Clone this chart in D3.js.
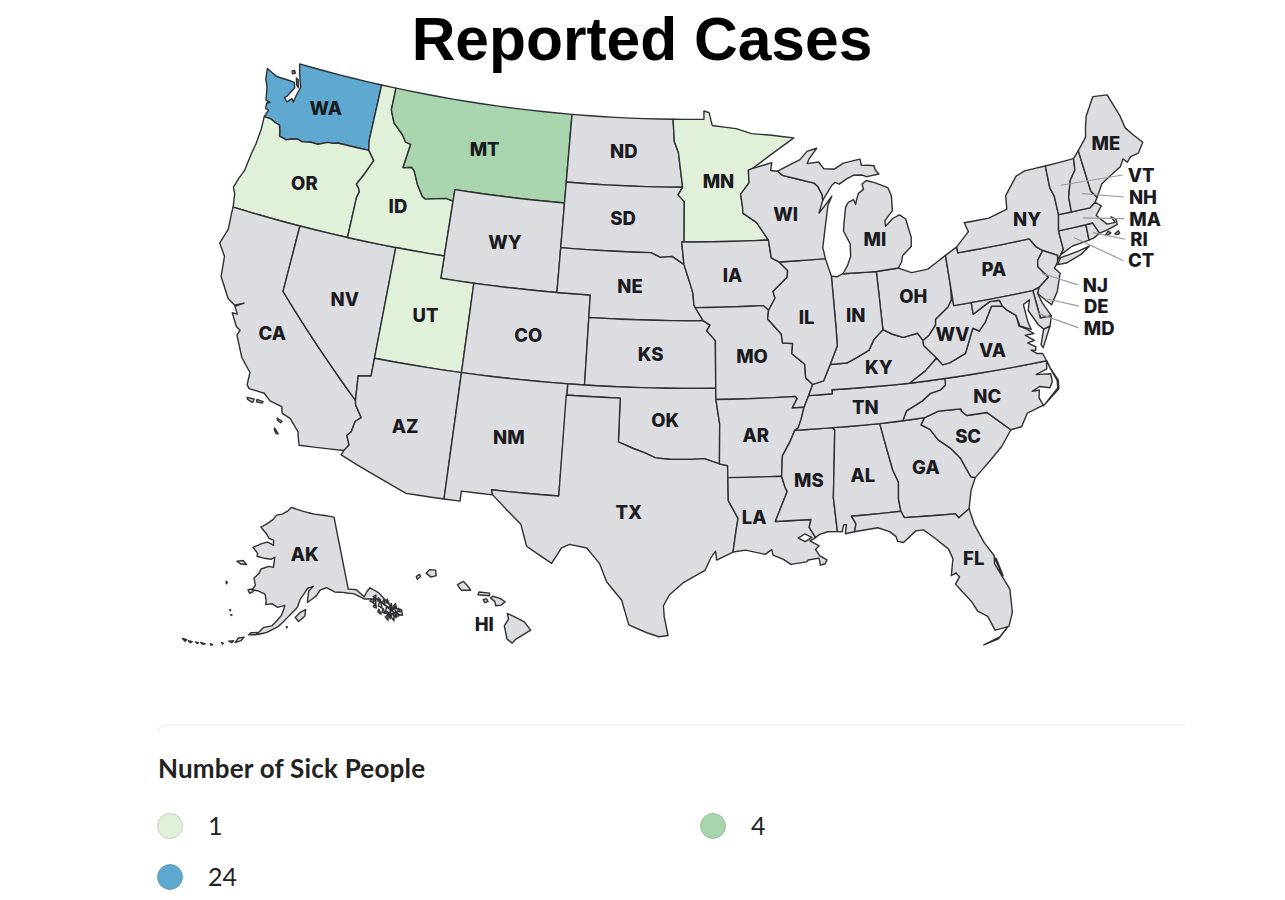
<!DOCTYPE html>
<html lang="en">
<head>
  <meta charset="UTF-8">
  <title>Reported Cases</title>
  <script src="https://d3js.org/d3.v7.min.js"></script>
  <style>
    body { margin: 0; background: #fff; }
    svg { display: block; }
    .state { stroke: #2e3034; stroke-width: 1.4; stroke-linejoin: round; fill-rule: evenodd; }
    .abbr { font-family: Inter, 'Noto Sans', sans-serif; font-weight: 800; font-size: 18.5px; fill: #1b1b1f; text-anchor: middle; dominant-baseline: central; }
    .leader { stroke: #9a9a9a; stroke-width: 1.2; fill: none; }
  </style>
</head>
<body>
  <svg id="chart" width="1285" height="900"></svg>
  <script>
    const title = "Reported Cases";
    const legendTitle = "Number of Sick People";
    const legendValues = [1, 4, 24];
    const legendColors = ["#e0f0d9", "#a8d5ad", "#5fa8cf"];
    const noDataColor = "#dcdde0";

    // sick people per state, every other state has none
    const reportedStates = ["WA", "MT", "OR", "ID", "UT", "MN"];
    const reportedCounts = [24, 4, 1, 1, 1, 1];

    const outlines = {
      WA: [[[-124.73,48.38],[-123.98,48.16],[-123.1,48.15],[-122.75,48.13],[-122.62,47.9],[-122.95,47.45],[-123.1,47.35],[-122.85,47.2],[-122.6,47.4],[-122.45,47.27],[-122.38,47.6],[-122.25,48.0],[-122.5,48.45],[-122.75,49],[-117.04,49],[-117.04,46.42],[-116.92,46],[-118.98,46],[-119.3,45.93],[-119.6,45.92],[-120.2,45.73],[-120.65,45.74],[-121.2,45.65],[-121.55,45.72],[-122,45.62],[-122.25,45.55],[-122.7,45.63],[-122.78,45.85],[-122.9,46.1],[-123.2,46.15],[-123.55,46.26],[-124,46.27],[-123.85,46.6],[-124.07,46.65],[-124.1,46.9],[-123.9,46.95],[-124.2,47],[-124.4,47.6],[-124.62,47.9]],
        [[-123.1,48.6],[-122.95,48.65],[-122.85,48.55],[-123.02,48.48]], [[-122.7,48.35],[-122.55,48.3],[-122.4,47.95],[-122.55,48.05]]],
      OR: [[[-124,46.27],[-123.55,46.26],[-123.2,46.15],[-122.9,46.1],[-122.78,45.85],[-122.7,45.63],[-122.25,45.55],[-122,45.62],[-121.55,45.72],[-121.2,45.65],[-120.65,45.74],[-120.2,45.73],[-119.6,45.92],[-119.3,45.93],[-118.98,46],[-116.92,46],[-116.47,45.6],[-116.68,45.25],[-116.85,44.95],[-117.22,44.4],[-117.03,44.25],[-116.93,44.1],[-117.03,43.83],[-117.03,42],[-124.21,42],[-124.36,42.6],[-124.55,42.84],[-124.4,43.3],[-124.2,43.7],[-124.1,44.5],[-124,45],[-123.95,45.7]]],
      CA: [[[-124.21,42],[-120,42],[-120,39],[-114.63,35],[-114.57,34.8],[-114.14,34.3],[-114.43,34.08],[-114.52,33.6],[-114.72,33.4],[-114.5,33],[-114.72,32.72],[-117.12,32.53],[-117.25,32.85],[-117.33,33.1],[-117.9,33.6],[-118.4,33.75],[-118.5,34.03],[-119.2,34.15],[-119.6,34.42],[-120.47,34.45],[-120.63,34.6],[-120.65,35.15],[-121.3,35.7],[-121.9,36.6],[-121.8,36.85],[-122.05,36.95],[-122.5,37.5],[-122.2,37.5],[-122.45,37.8],[-122,38.05],[-122.5,37.85],[-122.95,38.05],[-123.7,38.9],[-123.85,39.8],[-124.35,40.3],[-124.1,41],[-124.2,41.75]],
        [[-119.9,34.07],[-119.55,34.05],[-119.6,33.97],[-119.9,33.97]], [[-118.6,33.48],[-118.3,33.4],[-118.35,33.32],[-118.55,33.4]], [[-118.6,33.03],[-118.35,32.82],[-118.45,32.8],[-118.6,32.95]], [[-120.45,34.05],[-120.05,34.05],[-120.1,33.9],[-120.4,33.97]]],
      NV: [[[-120,42],[-114.04,42],[-114.04,36.2],[-114.75,36.1],[-114.63,35],[-120,39]]],
      ID: [[[-117.04,49],[-116.05,49],[-116.05,48],[-115.7,47.45],[-115,47],[-114.7,46.7],[-114.35,46.65],[-114.47,46],[-114.55,45.56],[-114,45.65],[-113.8,45.5],[-113.45,44.95],[-113,44.45],[-112.8,44.37],[-111.5,44.55],[-111.05,44.48],[-111.05,42],[-117.03,42],[-117.03,43.83],[-116.93,44.1],[-117.03,44.25],[-117.22,44.4],[-116.85,44.95],[-116.68,45.25],[-116.47,45.6],[-116.92,46],[-117.04,46.42]]],
      MT: [[[-116.05,49],[-104.05,49],[-104.05,45],[-111.05,45],[-111.05,44.48],[-111.5,44.55],[-112.8,44.37],[-113,44.45],[-113.45,44.95],[-113.8,45.5],[-114,45.65],[-114.55,45.56],[-114.47,46],[-114.35,46.65],[-114.7,46.7],[-115,47],[-115.7,47.45],[-116.05,48]]],
      WY: [[[-111.05,45],[-104.05,45],[-104.05,41],[-111.05,41]]],
      UT: [[[-114.04,42],[-111.05,42],[-111.05,41],[-109.05,41],[-109.05,37],[-114.04,37]]],
      CO: [[[-109.05,41],[-102.05,41],[-102.05,37],[-109.05,37]]],
      AZ: [[[-114.04,37],[-109.05,37],[-109.05,31.33],[-111.07,31.33],[-114.81,32.5],[-114.72,32.72],[-114.5,33],[-114.72,33.4],[-114.52,33.6],[-114.43,34.08],[-114.14,34.3],[-114.57,34.8],[-114.63,35],[-114.75,36.1],[-114.04,36.2]]],
      NM: [[[-109.05,37],[-103,37],[-103.04,32],[-106.62,32],[-106.53,31.78],[-108.2,31.78],[-108.2,31.33],[-109.05,31.33]]],
      ND: [[[-104.05,49],[-97.23,49],[-97.13,48],[-96.85,47.5],[-96.56,45.94],[-104.05,45.94]]],
      SD: [[[-104.05,45.94],[-96.56,45.94],[-96.85,45.6],[-96.45,45.3],[-96.45,43.5],[-96.6,43.5],[-96.45,42.49],[-97.2,42.85],[-97.9,42.8],[-98.5,43],[-104.05,43]]],
      NE: [[[-104.05,43],[-98.5,43],[-97.9,42.8],[-97.2,42.85],[-96.45,42.49],[-96.1,41.7],[-95.9,41.2],[-95.85,40.7],[-95.31,40],[-102.05,40],[-102.05,41],[-104.05,41]]],
      KS: [[[-102.05,40],[-95.31,40],[-94.9,39.8],[-95.1,39.55],[-94.6,39.11],[-94.62,37],[-102.05,37]]],
      OK: [[[-103,37],[-94.62,37],[-94.62,36.5],[-94.43,35.4],[-94.48,33.64],[-95.3,33.88],[-96,33.85],[-96.6,33.85],[-97.2,33.85],[-97.95,33.9],[-98.5,34.1],[-99.2,34.3],[-100,34.56],[-100,36.5],[-103,36.5]]],
      TX: [[[-103.04,36.5],[-100,36.5],[-100,34.56],[-99.2,34.3],[-98.5,34.1],[-97.95,33.9],[-97.2,33.85],[-96.6,33.85],[-96,33.85],[-95.3,33.88],[-94.48,33.64],[-94.04,33.55],[-94.04,33.02],[-94.04,32],[-93.55,31.2],[-93.7,30.5],[-93.85,29.7],[-94.7,29.35],[-94.75,29.75],[-95,29.45],[-95.3,28.9],[-96.4,28.35],[-97.1,27.8],[-97.4,27.3],[-97.35,26.8],[-97.15,25.96],[-97.6,25.9],[-98.2,26.07],[-99.1,26.4],[-99.5,27.5],[-100.3,28.3],[-100.7,29.1],[-101.4,29.77],[-102.3,29.88],[-102.7,29.7],[-103.15,28.98],[-104.5,29.65],[-104.9,30.6],[-106.53,31.78],[-106.62,32],[-103.04,32]]],
      MN: [[[-97.23,49],[-95.15,49],[-95.15,49.38],[-94.8,49.3],[-94.6,48.72],[-93,48.55],[-92,48.3],[-90.8,48.2],[-89.2,48],[-90.8,47.3],[-92.05,46.72],[-92.29,46.66],[-92.29,46.08],[-92.85,45.6],[-92.75,45],[-92.75,44.75],[-91.9,44.3],[-91.22,43.5],[-96.45,43.5],[-96.45,45.3],[-96.85,45.6],[-96.56,45.94],[-96.85,47.5],[-97.13,48]]],
      IA: [[[-96.45,43.5],[-91.22,43.5],[-91.1,42.7],[-90.64,42.5],[-90.15,42.1],[-90.2,41.8],[-91.1,41.2],[-91,40.9],[-91.42,40.38],[-91.73,40.6],[-95.77,40.58],[-95.85,40.7],[-95.9,41.2],[-96.1,41.7],[-96.45,42.49],[-96.6,43.5]]],
      MO: [[[-95.77,40.58],[-91.73,40.6],[-91.42,40.38],[-91.5,40],[-90.75,39.3],[-90.7,38.9],[-90.12,38.85],[-90.2,38.4],[-89.5,37.9],[-89.5,37.3],[-89.13,36.98],[-89.4,36.5],[-89.7,36],[-90.37,36],[-90.07,36.4],[-90.15,36.5],[-94.62,36.5],[-94.62,37],[-94.6,39.11],[-95.1,39.55],[-94.9,39.8],[-95.31,40]]],
      AR: [[[-94.62,36.5],[-90.15,36.5],[-90.07,36.4],[-90.37,36],[-89.7,36],[-89.9,35.5],[-90.1,35.1],[-90.3,35],[-90.6,34.5],[-91.05,33.9],[-91.15,33],[-94.04,33.02],[-94.04,33.55],[-94.48,33.64],[-94.43,35.4]]],
      LA: [[[-94.04,33.02],[-91.15,33],[-91,32.5],[-90.9,32.3],[-91.6,31],[-89.73,31],[-89.85,30.65],[-89.55,30.18],[-89.85,30.05],[-89.4,29.8],[-89.6,29.65],[-89.4,29.35],[-89.05,29.15],[-89.15,28.98],[-89.4,28.93],[-89.45,29.25],[-90,29.2],[-90.1,29.12],[-90.9,29.05],[-91.3,29.3],[-91.8,29.5],[-91.85,29.75],[-92.2,29.55],[-93.2,29.77],[-93.85,29.7],[-93.7,30.5],[-93.55,31.2],[-94.04,32]],
        [[-90.45,30.2],[-90.1,30.37],[-89.75,30.2],[-90.1,30.03]]],
      MS: [[[-90.3,35],[-88.2,35],[-88.1,34.9],[-88.47,31.9],[-88.4,30.37],[-88.9,30.4],[-89.35,30.3],[-89.55,30.18],[-89.85,30.65],[-89.73,31],[-91.6,31],[-90.9,32.3],[-91,32.5],[-91.15,33],[-91.05,33.9],[-90.6,34.5]]],
      AL: [[[-88.2,35],[-85.6,34.98],[-85.18,32.87],[-84.95,32.3],[-85.05,31.55],[-85,31],[-87.6,31],[-87.4,30.65],[-87.52,30.3],[-88,30.25],[-87.9,30.65],[-88.05,30.65],[-88.15,30.35],[-88.4,30.37],[-88.47,31.9],[-88.1,34.9]]],
      GA: [[[-85.6,34.98],[-84.32,34.99],[-83.1,35],[-83.35,34.7],[-82.9,34.45],[-82.55,33.95],[-81.95,33.5],[-81.5,33],[-81.1,32.1],[-80.87,32.03],[-81.2,31.5],[-81.45,30.7],[-82.05,30.37],[-82.2,30.57],[-84.86,30.7],[-85,31],[-85.05,31.55],[-84.95,32.3],[-85.18,32.87]]],
      FL: [[[-87.6,31],[-85,31],[-84.86,30.7],[-82.2,30.57],[-82.05,30.37],[-81.45,30.7],[-81.3,29.95],[-80.95,29.1],[-80.55,28.45],[-80.6,28.1],[-80.05,26.85],[-80.12,25.8],[-80.4,25.2],[-80.9,25.15],[-81.1,25.13],[-81.35,25.8],[-81.8,26.1],[-82.05,26.6],[-82.4,27.05],[-82.7,27.45],[-82.45,27.75],[-82.6,27.95],[-82.85,27.85],[-82.65,28.6],[-82.8,29.05],[-83.4,29.6],[-83.95,30.05],[-84.35,30.05],[-85.05,29.6],[-85.35,29.68],[-85.4,29.9],[-85.7,30.15],[-86.3,30.38],[-87.52,30.3],[-87.4,30.65]],
        [[-80.55,28.35],[-80.32,27.55],[-80.27,27.5],[-80.47,28.3]], [[-80.45,25.2],[-80.9,24.8],[-81.75,24.55],[-81.0,24.72]]],
      SC: [[[-83.1,35],[-82.3,35.2],[-81.05,35.15],[-81.05,35.05],[-80.8,34.82],[-79.67,34.8],[-78.55,33.86],[-79.2,33.2],[-79.9,32.7],[-80.87,32.03],[-81.1,32.1],[-81.5,33],[-81.95,33.5],[-82.55,33.95],[-82.9,34.45],[-83.35,34.7]]],
      NC: [[[-84.32,34.99],[-83.1,35],[-82.3,35.2],[-81.05,35.15],[-81.05,35.05],[-80.8,34.82],[-79.67,34.8],[-78.55,33.86],[-77.95,33.9],[-77.5,34.45],[-76.55,34.65],[-76.7,35],[-76.6,35.35],[-77,35.35],[-76.55,35.5],[-76,35.35],[-75.8,35.6],[-75.8,35.95],[-76.2,36],[-76.6,36.05],[-75.95,36.2],[-75.87,36.55],[-81.68,36.59],[-81.7,36.3],[-82,36.12],[-82.6,36.03],[-83.1,35.75],[-84.05,35.4]],
        [[-76.55,34.62],[-75.53,35.22],[-75.46,35.6],[-75.75,36.2],[-75.85,36.53],[-75.78,36.25],[-75.52,35.6],[-75.58,35.27]]],
      TN: [[[-90.3,35],[-88.2,35],[-85.6,34.98],[-84.32,34.99],[-84.05,35.4],[-83.1,35.75],[-82.6,36.03],[-82,36.12],[-81.7,36.3],[-81.68,36.59],[-83.68,36.6],[-88.07,36.68],[-88.07,36.5],[-89.4,36.5],[-89.7,36],[-89.9,35.5],[-90.1,35.1]]],
      KY: [[[-89.4,36.5],[-89.13,36.98],[-88.5,37.1],[-88.05,37.8],[-87.1,37.8],[-86.5,38],[-85.75,38.27],[-85.4,38.72],[-84.82,39.1],[-84.3,38.85],[-83.7,38.65],[-82.85,38.75],[-82.6,38.4],[-82.6,38.17],[-81.97,37.54],[-82.7,37.05],[-83.68,36.6],[-88.07,36.68],[-88.07,36.5]]],
      VA: [[[-83.68,36.6],[-81.68,36.59],[-75.87,36.55],[-76,36.9],[-76.3,36.95],[-76.6,37.15],[-76.35,37.1],[-76.3,37.25],[-76.7,37.5],[-76.3,37.55],[-76.75,37.85],[-76.25,37.85],[-76.6,38.1],[-77,38.3],[-77.05,38.8],[-77.5,39.1],[-77.72,39.32],[-78.35,39.4],[-78.87,38.76],[-79.3,38.42],[-79.65,38.59],[-80.3,37.55],[-81.25,37.25],[-81.68,37.2],[-81.97,37.54],[-82.7,37.05]],
        [[-75.65,37.95],[-75.25,38.03],[-75.9,37.15],[-75.98,37.3]]],
      WV: [[[-77.72,39.32],[-78.35,39.4],[-78.87,38.76],[-79.3,38.42],[-79.65,38.59],[-80.3,37.55],[-81.25,37.25],[-81.68,37.2],[-81.97,37.54],[-82.6,38.17],[-82.6,38.4],[-82.2,38.6],[-81.75,39],[-81.7,39.25],[-80.87,39.7],[-80.6,40],[-80.52,40.64],[-80.52,39.72],[-79.48,39.72],[-79.48,39.2],[-78.4,39.62],[-77.83,39.6]]],
      OH: [[[-84.82,39.1],[-84.8,41.7],[-83.45,41.73],[-82.7,41.45],[-81.7,41.5],[-80.52,41.98],[-80.52,40.64],[-80.6,40],[-80.87,39.7],[-81.7,39.25],[-81.75,39],[-82.2,38.6],[-82.6,38.4],[-82.85,38.75],[-83.7,38.65],[-84.3,38.85]]],
      IN: [[[-84.82,39.1],[-85.4,38.72],[-85.75,38.27],[-86.5,38],[-87.1,37.8],[-88.05,37.8],[-87.55,38.6],[-87.53,39.35],[-87.53,41.7],[-87.2,41.65],[-86.82,41.76],[-84.8,41.7]]],
      IL: [[[-87.53,41.7],[-87.53,39.35],[-87.55,38.6],[-88.05,37.8],[-88.5,37.1],[-89.13,36.98],[-89.5,37.3],[-89.5,37.9],[-90.2,38.4],[-90.12,38.85],[-90.7,38.9],[-90.75,39.3],[-91.5,40],[-91.42,40.38],[-91,40.9],[-91.1,41.2],[-90.2,41.8],[-90.15,42.1],[-90.64,42.5],[-87.8,42.5],[-87.6,41.9]]],
      WI: [[[-90.64,42.5],[-87.8,42.5],[-87.9,43],[-87.7,43.7],[-87.55,44.2],[-87.35,44.85],[-87.05,45.25],[-87.55,44.85],[-87.95,44.55],[-87.65,45.1],[-87.65,45.35],[-87.9,45.75],[-88.1,45.9],[-89.1,46.13],[-90.1,46.35],[-90.4,46.55],[-90.85,46.6],[-90.75,46.95],[-91.2,46.87],[-92.05,46.72],[-92.29,46.66],[-92.29,46.08],[-92.85,45.6],[-92.75,45],[-92.75,44.75],[-91.9,44.3],[-91.22,43.5],[-91.1,42.7]]],
      MI: [[[-86.82,41.76],[-86.5,42.1],[-86.25,42.5],[-86.2,43.05],[-86.53,43.65],[-86.45,44],[-86.25,44.7],[-86.05,44.9],[-85.7,45],[-85.6,44.77],[-85.5,45],[-85.35,45.25],[-85,45.4],[-85.05,45.65],[-84.75,45.78],[-84.2,45.63],[-83.45,45.35],[-83.3,45],[-83.3,44.85],[-83.35,44.3],[-83.9,43.9],[-83.9,43.65],[-83.4,43.95],[-82.95,44.07],[-82.6,43.85],[-82.42,43],[-82.5,42.6],[-83.1,42.25],[-83.2,42],[-83.45,41.73],[-84.8,41.7]],
        [[-83.9,46],[-84.7,45.95],[-85,46.05],[-85.55,46.08],[-86,45.95],[-86.5,45.75],[-86.75,45.85],[-87,45.72],[-87.65,45.1],[-87.65,45.35],[-87.9,45.75],[-88.1,45.9],[-89.1,46.13],[-90.1,46.35],[-90.4,46.55],[-89.5,46.83],[-88.9,47],[-88.4,47.35],[-87.75,47.45],[-88.3,47],[-88.45,46.8],[-87.7,46.83],[-87.4,46.5],[-86.7,46.45],[-86.1,46.67],[-85,46.77],[-84.95,46.48],[-84.5,46.45],[-84.15,46.4],[-84.1,46.2]]],
      PA: [[[-80.52,41.98],[-79.76,42.27],[-79.76,42],[-75.35,42],[-75.05,41.6],[-74.7,41.36],[-75.13,40.98],[-75.2,40.7],[-74.72,40.15],[-75.4,39.8],[-75.79,39.72],[-80.52,39.72]]],
      NY: [[[-79.76,42.27],[-78.9,42.85],[-79.05,43.27],[-77.5,43.27],[-76.3,43.5],[-76.2,44.1],[-75.3,44.85],[-74.7,45],[-73.35,45],[-73.4,44],[-73.25,43.6],[-73.27,42.75],[-73.5,42.05],[-73.48,41.2],[-73.7,41],[-73.95,40.8],[-73.9,41],[-74.7,41.36],[-75.05,41.6],[-75.35,42],[-79.76,42]],
        [[-74.03,40.6],[-73.75,40.87],[-72.6,40.97],[-71.9,41.07],[-72.5,40.8],[-73.5,40.58]]],
      NJ: [[[-73.9,41],[-74.7,41.36],[-75.13,40.98],[-75.2,40.7],[-74.72,40.15],[-75.4,39.8],[-75.55,39.55],[-75.3,39.3],[-74.9,38.93],[-74.4,39.45],[-74,40.2],[-74.25,40.48],[-74,40.7]]],
      DE: [[[-75.79,39.72],[-75.4,39.8],[-75.55,39.55],[-75.4,39.1],[-75.05,38.45],[-75.7,38.46]]],
      MD: [[[-79.48,39.72],[-75.79,39.72],[-75.7,38.46],[-75.05,38.45],[-75.25,38.03],[-75.65,37.95],[-75.9,38.2],[-76.3,38.9],[-76.1,39.35],[-76.5,39.2],[-76.45,38.4],[-76.35,38.05],[-76.95,38.3],[-77.05,38.8],[-77.5,39.1],[-77.72,39.32],[-77.83,39.6],[-78.4,39.62],[-79.48,39.2]]],
      CT: [[[-73.5,42.05],[-71.8,42.02],[-71.85,41.32],[-72.9,41.25],[-73.7,41],[-73.48,41.2]]],
      RI: [[[-71.8,42.02],[-71.38,42.02],[-71.13,41.5],[-71.5,41.37],[-71.85,41.32]]],
      MA: [[[-73.5,42.05],[-73.27,42.75],[-72.46,42.73],[-71.3,42.7],[-70.9,42.88],[-70.6,42.65],[-71.05,42.3],[-70.55,41.8],[-70.05,41.78],[-70.2,42.07],[-69.95,41.9],[-69.95,41.67],[-70.65,41.55],[-71.13,41.5],[-71.38,42.02],[-71.8,42.02]],
        [[-70.83,41.35],[-70.6,41.48],[-70.47,41.38],[-70.7,41.33]], [[-70.25,41.3],[-70,41.38],[-69.97,41.25],[-70.2,41.25]]],
      VT: [[[-73.35,45],[-71.5,45.01],[-71.6,44.5],[-72.05,44.1],[-72.4,43.4],[-72.46,42.73],[-73.27,42.75],[-73.25,43.6],[-73.4,44]]],
      NH: [[[-71.5,45.01],[-71.08,45.3],[-70.98,43.4],[-70.7,43.07],[-70.9,42.88],[-71.3,42.7],[-72.46,42.73],[-72.4,43.4],[-72.05,44.1],[-71.6,44.5]]],
      ME: [[[-71.08,45.3],[-70.4,45.8],[-70.25,46.2],[-70,46.7],[-69.23,47.46],[-68.3,47.35],[-67.9,46.3],[-67.8,45.7],[-67.45,45.3],[-67,44.85],[-67.47,44.45],[-68,44.4],[-68.3,44.2],[-68.5,44.4],[-68.8,44.1],[-69.1,44],[-69.8,43.75],[-70.2,43.6],[-70.7,43.07],[-70.98,43.4]]],
      AK: [[[-141,69.65],[-141,60.3],[-139,60],[-137.5,58.9],[-136.5,59.45],[-135.5,59.8],[-133.8,58.9],[-131.8,56.6],[-130,55.9],[-130.2,55.2],[-131.5,55.6],[-133,57],[-134.6,58.2],[-136,58.4],[-137.5,58.6],[-139.8,59.55],[-142.5,60],[-144.5,60.2],[-146.5,60.9],[-148.2,60.7],[-149.3,60],[-151.7,59.2],[-151.3,60.6],[-150,61.2],[-151.5,61],[-153.5,59.6],[-154.2,58.6],[-156.5,57.3],[-158.5,56.1],[-161,55.2],[-163.3,54.75],[-161.8,55.8],[-160,56.1],[-158,57.5],[-157.5,58.3],[-157.3,58.8],[-159,58.5],[-160.5,58.9],[-162,58.7],[-162,59.2],[-162.5,60],[-164.5,60.3],[-166,60.3],[-165.3,60.9],[-166,61.8],[-164.8,62.6],[-164.5,63.1],[-162.5,63.55],[-161.1,63.5],[-161,64.8],[-162,64.5],[-164,64.5],[-166.3,64.6],[-166.3,65],[-168,65.6],[-166,66.2],[-164.5,66.5],[-163.8,66.6],[-161.8,66.3],[-162,66.95],[-163.5,67.1],[-164.5,67.6],[-166.8,68.35],[-165,68.9],[-163,69.6],[-162,70.2],[-160,70.4],[-158,70.85],[-156.6,71.35],[-152,70.85],[-148,70.4],[-144,70.05]],
        [[-154.7,57.3],[-153.4,58],[-152.2,58.3],[-152.4,57.5],[-153.9,56.8]],
        [[-167,60.2],[-166,60.4],[-165.6,60.1],[-166.4,59.8]],
        [[-171.7,63.4],[-170,63.7],[-168.8,63.3],[-170.3,63.2]],
        [[-173,60.6],[-172.6,60.5],[-172.8,60.3]],
        [[-170.3,57.2],[-170.1,57.25],[-170.1,57.1]], [[-169.8,56.65],[-169.5,56.65],[-169.6,56.55]],
        [[-156.7,56.1],[-156.5,56.1],[-156.6,55.95]],
        [[-164.9,54.6],[-163.3,54.75],[-163.2,55.05],[-164.5,54.9]], [[-167,53.95],[-165.8,54.2],[-166.3,53.7],[-167.5,53.3]],
        [[-168.9,53.3],[-167.9,53.5],[-168.2,53.2]], [[-170.3,52.9],[-169.9,52.9],[-170,52.75]], [[-172.5,52.4],[-172,52.35],[-172.3,52.25]],
        [[-174.5,52.2],[-173.5,52.2],[-173.9,52.05]], [[-175.5,52.05],[-174.9,52.1],[-175.1,51.95]], [[-177,51.9],[-176.2,51.95],[-176.5,51.75]], [[-178.3,51.9],[-177.4,51.95],[-177.6,51.7]],
        [[-133.6,56.3],[-133,56.9],[-132.4,56.4],[-133,55.3]], [[-135.8,57.9],[-134.9,58.2],[-135.4,57.4]], [[-134.8,57.3],[-133.9,58],[-134.1,56.9]], [[-136.4,58.2],[-135.2,58.4],[-135.8,57.9]], [[-132.7,56.1],[-131.3,56.4],[-131.7,55.2]], [[-133,55.9],[-131.9,55.8],[-132.4,54.9]], [[-134.9,56.9],[-134.7,56.2],[-135.3,56.6]], [[-132.4,56.8],[-131.7,57.1],[-131.9,56.3]], [[-133.7,57.5],[-133,57.9],[-133.3,57.1]], [[-131.9,55.3],[-131.2,55.9],[-130.9,55.3]], [[-134,55.7],[-133.3,55.9],[-133.6,55.2]],
        [[-136,57.4],[-135.2,57.7],[-135.4,57.1]], [[-134.4,56.4],[-133.9,56.8],[-133.8,56.1]], [[-135.4,58.6],[-134.6,58.7],[-134.9,58.3]], [[-132.8,57.4],[-132.3,57.8],[-132.2,57.2]], [[-131.4,56.7],[-130.8,56.9],[-130.9,56.4]], [[-133.2,56.3],[-132.6,55.6],[-132.9,55.5]], [[-134.6,57.9],[-134.2,58.3],[-134.1,57.8]], [[-130.9,55.9],[-130.5,56.2],[-130.4,55.7]]],
      HI: [[[-155.9,20.25],[-155.6,20.12],[-155.1,19.87],[-154.8,19.5],[-155.5,19.1],[-155.68,18.92],[-155.92,19.1],[-156.05,19.7],[-155.85,20]],
        [[-159.78,22.06],[-159.6,22.22],[-159.33,22.2],[-159.3,21.95],[-159.55,21.88]],
        [[-160.25,21.9],[-160.1,22],[-160.05,21.9],[-160.2,21.78]],
        [[-158.28,21.55],[-158,21.7],[-157.75,21.45],[-157.65,21.3],[-158.1,21.3]],
        [[-157.3,21.1],[-157.25,21.22],[-156.75,21.17],[-156.75,21.05]],
        [[-157.05,20.88],[-156.9,20.92],[-156.82,20.8],[-156.97,20.74]],
        [[-156.7,20.95],[-156.6,21.03],[-156.25,20.93],[-156,20.78],[-156.2,20.63],[-156.45,20.6],[-156.5,20.8]]]
    };

    // label anchors [state, lon, lat]
    const labelAnchors = [
      ["WA",-120.3,47.4],["OR",-120.4,43.9],["CA",-120,37.1],["NV",-116.4,39.3],["ID",-114.4,43.85],["MT",-109.55,47],
      ["WY",-107.5,43],["UT",-111.6,39.3],["AZ",-111.7,34.3],["CO",-105.5,39],["NM",-106,34.4],["ND",-100.45,47.5],
      ["SD",-100.3,44.5],["NE",-99.7,41.5],["KS",-98.35,38.5],["OK",-97.45,35.6],["TX",-99.3,31.48],["MN",-94.25,46.22],
      ["IA",-93.5,42],["MO",-92.5,38.4],["AR",-92.45,34.9],["LA",-92.7,31.25],["MS",-89.7,32.75],["AL",-86.8,32.8],
      ["GA",-83.4,32.8],["FL",-81.6,28.48],["SC",-80.9,33.9],["NC",-79.5,35.5],["TN",-86.3,35.8],["KY",-85.3,37.5],
      ["IL",-89.2,40],["IN",-86.3,39.9],["OH",-82.8,40.4],["WI",-90.05,44.6],["MI",-84.65,43.15],["WV",-80.85,38.5],
      ["VA",-78.75,37.5],["PA",-77.8,41],["NY",-75.2,42.9],["ME",-69.25,45.3],["AK",-152,65.3],["HI",-157,19.8]
    ];
    // small states labelled offshore: [state, label lon, label lat, lon, lat inside the state]
    const offshoreLabels = [
      ["VT",-67.71,43.48,-72.7,44],["NH",-68,42.52,-71.55,43.4],["MA",-68.25,41.57,-71.9,42.35],["RI",-68.95,40.77,-71.5,41.6],
      ["CT",-69.18,39.84,-72.7,41.6],["NJ",-72.15,39.33,-75.04,40.37],["DE",-72.4,38.41,-75.08,39.22],["MD",-72.55,37.44,-75.8,38.7]
    ];

    const lower48 = d3.geoAlbers().rotate([96, 0]).center([-0.6, 38.7]).parallels([29.5, 45.5]).scale(1280).translate([681, 350]);
    const alaska = d3.geoConicEqualArea().rotate([154, 0]).center([-2, 58.5]).parallels([55, 65]).scale(450).translate([290, 608]);
    const hawaii = d3.geoConicEqualArea().rotate([157, 0]).center([-3, 19.9]).parallels([8, 18]).scale(1280).translate([421, 621]);
    const projectionFor = s => s === "AK" ? alaska : s === "HI" ? hawaii : lower48;

    // long straight borders have to bend with the parallels
    function densify(ring) {
      const out = [];
      ring.forEach((p, i) => {
        const q = ring[(i + 1) % ring.length];
        const n = Math.max(1, Math.ceil(Math.max(Math.abs(q[0] - p[0]), Math.abs(q[1] - p[1]))));
        for (let k = 0; k < n; k++) out.push([p[0] + (q[0] - p[0]) * k / n, p[1] + (q[1] - p[1]) * k / n]);
      });
      return out;
    }

    const color = d3.scaleOrdinal().domain(legendValues).range(legendColors);
    const cases = new Map(reportedStates.map((s, i) => [s, reportedCounts[i]]));
    const svg = d3.select("#chart");

    svg.append("text").attr("x", 642).attr("y", 60).attr("text-anchor", "middle")
      .style("font-family", "'Liberation Sans', Arial, sans-serif").style("font-weight", 700).style("font-size", "60.5px")
      .text(title);

    const line = d3.line();
    svg.append("g").selectAll("path")
      .data(Object.keys(outlines))
      .join("path")
      .attr("class", "state")
      .attr("fill", s => cases.has(s) ? color(cases.get(s)) : noDataColor)
      .attr("d", s => outlines[s].map(r => line(densify(r).map(projectionFor(s))) + "Z").join(""));

    const labels = svg.append("g");
    labels.selectAll("text.inland").data(labelAnchors).join("text")
      .attr("class", "abbr inland")
      .attr("transform", d => `translate(${projectionFor(d[0])([d[1], d[2]])})`)
      .text(d => d[0]);

    labels.selectAll("text.offshore").data(offshoreLabels).join("text")
      .attr("class", "abbr offshore")
      .attr("transform", d => `translate(${lower48([d[1], d[2]])})`)
      .text(d => d[0])
      .each(function (d) {
        const [x, y] = lower48([d[1], d[2]]);
        const half = this.getComputedTextLength() / 2;
        labels.insert("path", "text").attr("class", "leader")
          .attr("d", line([lower48([d[3], d[4]]), [x - half - 5, y]]));
      });

    // legend
    const legend = svg.append("g");
    legend.append("path").attr("fill", "none").attr("stroke", "#e8e8e8").attr("stroke-width", 1.2)
      .attr("d", "M158,733Q158,725 168,725H1185");
    legend.append("text").attr("x", 158).attr("y", 778)
      .style("font-family", "Lato, sans-serif").style("font-weight", 700).style("font-size", "26px").style("letter-spacing", "0.2px").style("fill", "#222")
      .text(legendTitle);
    const col = d3.scalePoint().domain([0, 1]).range([170, 713]);
    const row = d3.scalePoint().domain([0, 1]).range([826, 877]);
    const item = legend.selectAll("g.item").data(legendValues).join("g").attr("class", "item")
      .attr("transform", (d, i) => `translate(${col(i % 2)},${row(Math.floor(i / 2))})`);
    item.append("circle").attr("r", 12.5).attr("fill", d => color(d))
      .attr("stroke", d => d3.color(color(d)).darker(0.8)).attr("stroke-opacity", 0.6);
    item.append("text").attr("x", 38).attr("y", 9)
      .style("font-family", "Lato, sans-serif").style("font-size", "25px").style("fill", "#222")
      .text(d => d);
  </script>
</body>
</html>
